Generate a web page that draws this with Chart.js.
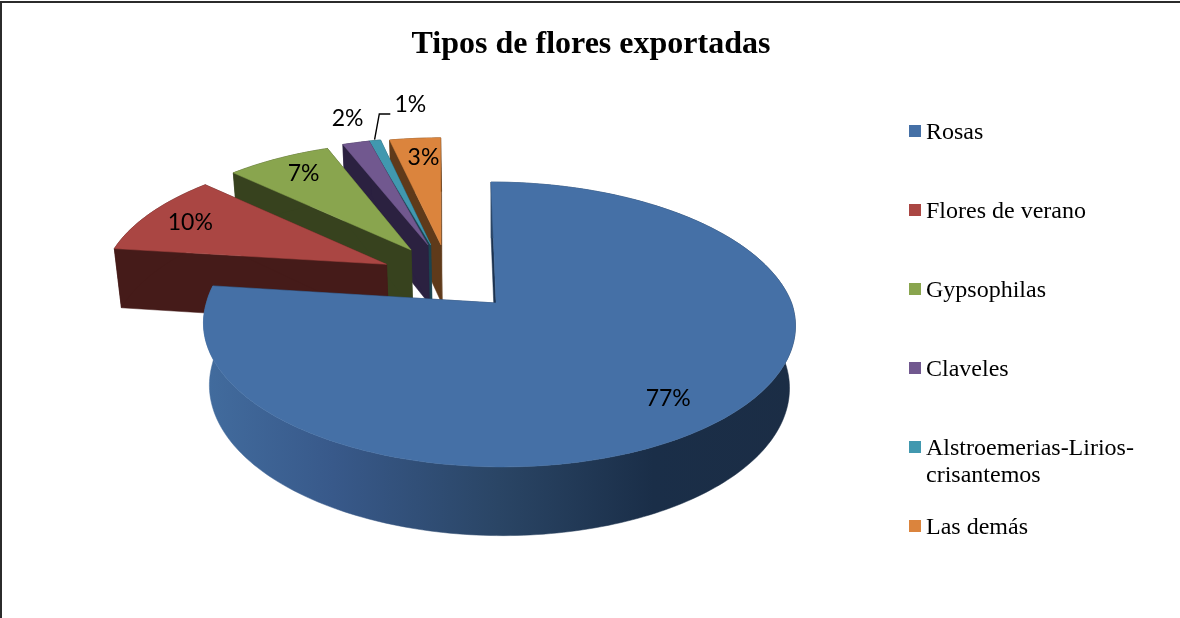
<!DOCTYPE html>
<html><head><meta charset="utf-8">
<style>
html,body{margin:0;padding:0;background:#fff;overflow:hidden}
#wrap{position:relative;width:1180px;height:618px}
#frame{position:absolute;left:0;top:1px;right:0;bottom:-4px;border-left:2px solid #2b2b2b;border-top:2px solid #2b2b2b;pointer-events:none}
canvas{display:block}
</style></head><body>
<div id="wrap"><canvas id="c" width="1180" height="618"></canvas><div id="frame"></div></div>
<script src="https://cdn.jsdelivr.net/npm/chart.js@4"></script>
<script>
const categories = ['Rosas','Flores de verano','Gypsophilas','Claveles',['Alstroemerias-Lirios-','crisantemos'],'Las demás'];
const values = [77,10,7,1.8,0.8,3.4];
const percentLabels = ['77%','10%','7%','2%','1%','3%'];
const topColors  = ['#4570a6','#aa4643','#89a54e','#71588f','#4198af','#db843d'];
const wallColors = ['#1c3350','#451b19','#37421e','#2b2140','#1b4450','#5f3a1a'];
const title = 'Tipos de flores exportadas';

// explosion of each slice on the table plane, in pie radii (x right, z towards viewer)
const explodeX = [0,-0.392,-0.294,-0.233,-0.235,-0.1975];
const explodeZ = [0,-0.29,-0.404,-0.445,-0.445,-0.445];
const hubNudge = [-0.01,0,-0.012,-0.012,0,0];
const labelRadius = [0.8,0.81,0.82,1.27,1.3,0.81];
const labelNudgeX = [-3,-3,3,9,50,4];
const labelNudgeY = [4,0,0,0,-9,1];
const paintOrder = [5,4,3,2,1,0];

const cam = {cx:499, y0:303, A:139.2, B:292.6, Sback:9.2, Sfront:3, D:6.63, h:63, bw:0.02};
function project(X,Z,H){
  const w = 1 - Z/cam.D + cam.bw*H;
  const s = Z<0 ? cam.Sback : cam.Sfront;
  return {x: cam.cx + (cam.B*X + s*Z)/w, y: cam.y0 + (cam.A*Z + cam.h*H)/w};
}
function poly(ctx,pts,fill){
  ctx.beginPath();
  pts.forEach((p,i)=> i? ctx.lineTo(p.x,p.y): ctx.moveTo(p.x,p.y));
  ctx.closePath();
  ctx.fillStyle=fill; ctx.fill();
  ctx.strokeStyle=fill; ctx.lineWidth=0.5; ctx.stroke();
}
function rim(arc,i,H){
  const pts=[], n=Math.max(4,Math.ceil((arc.endAngle-arc.startAngle)/0.02));
  for(let k=0;k<=n;k++){
    const a=arc.startAngle+(arc.endAngle-arc.startAngle)*k/n;
    pts.push(project(explodeX[i]+Math.cos(a), explodeZ[i]+Math.sin(a), H));
  }
  return pts;
}
const pie3d = {
  id:'pie3d',
  beforeDatasetDraw(chart){
    const ctx=chart.ctx, arcs=chart.getDatasetMeta(0).data;
    ctx.save();
    paintOrder.forEach(i=>{
      const arc=arcs[i];
      const hubT=project(explodeX[i]+hubNudge[i],explodeZ[i],0), hubB=project(explodeX[i]+hubNudge[i],explodeZ[i],1);
      const t=rim(arc,i,0), b=rim(arc,i,1);
      poly(ctx,[hubT,t[0],b[0],hubB],wallColors[i]);
      poly(ctx,[hubT,t[t.length-1],b[b.length-1],hubB],wallColors[i]);
      let wall=wallColors[i];
      if(i===0){
        wall=ctx.createLinearGradient(203,0,795,0);
        wall.addColorStop(0,'#426c9e');
        wall.addColorStop(0.22,'#38598a');
        wall.addColorStop(0.5,'#2a4565');
        wall.addColorStop(0.76,'#1a2e48');
        wall.addColorStop(1,'#1b2d45');
      }
      poly(ctx,t.concat(b.slice().reverse()),wall);
      poly(ctx,[hubT].concat(t),topColors[i]);
    });
    ctx.fillStyle='#000';
    ctx.font='23px Lato';
    ctx.textAlign='center'; ctx.textBaseline='middle';
    const lab=[];
    arcs.forEach((arc,i)=>{
      const a=(arc.startAngle+arc.endAngle)/2, r=labelRadius[i];
      const p=project(explodeX[i]+r*Math.cos(a),explodeZ[i]+r*Math.sin(a),0);
      lab[i]={x:p.x+labelNudgeX[i],y:p.y+labelNudgeY[i]};
      ctx.fillText(percentLabels[i],lab[i].x,lab[i].y);
    });
    const s=arcs[4], am=(s.startAngle+s.endAngle)/2, e=project(explodeX[4]+Math.cos(am),explodeZ[4]+Math.sin(am),0);
    ctx.strokeStyle='#000'; ctx.lineWidth=1.4; ctx.beginPath();
    ctx.moveTo(e.x,e.y-1); ctx.lineTo(lab[4].x-31,lab[4].y+9); ctx.lineTo(lab[4].x-20,lab[4].y+9); ctx.stroke();
    ctx.restore();
    return false;
  },
  afterDraw(chart){
    const ctx=chart.ctx, lg={box:909,size:12,text:926,y:131,step:79,line:27};
    ctx.save();
    ctx.font='24px "Liberation Serif"';
    ctx.textAlign='left'; ctx.textBaseline='alphabetic';
    chart.data.labels.forEach((label,i)=>{
      const y=lg.y+lg.step*i;
      ctx.fillStyle=topColors[i];
      ctx.fillRect(lg.box,y-lg.size/2,lg.size,lg.size);
      ctx.fillStyle='#000';
      [].concat(label).forEach((ln,k)=>ctx.fillText(ln,lg.text,y+8+k*lg.line));
    });
    ctx.restore();
  }
};
new Chart(document.getElementById('c'),{
  type:'pie',
  data:{labels:categories,datasets:[{data:values,backgroundColor:topColors,borderWidth:0}]},
  plugins:[pie3d],
  options:{
    responsive:false,animation:false,
    layout:{padding:{top:0,right:0,bottom:0,left:2}},
    plugins:{
      tooltip:{enabled:false},
      legend:{display:false},
      title:{display:true,text:title,color:'#000',padding:{top:26,bottom:18},
        font:{family:'Liberation Serif',size:32,weight:'bold'}}
    }
  }
});
</script></body></html>
